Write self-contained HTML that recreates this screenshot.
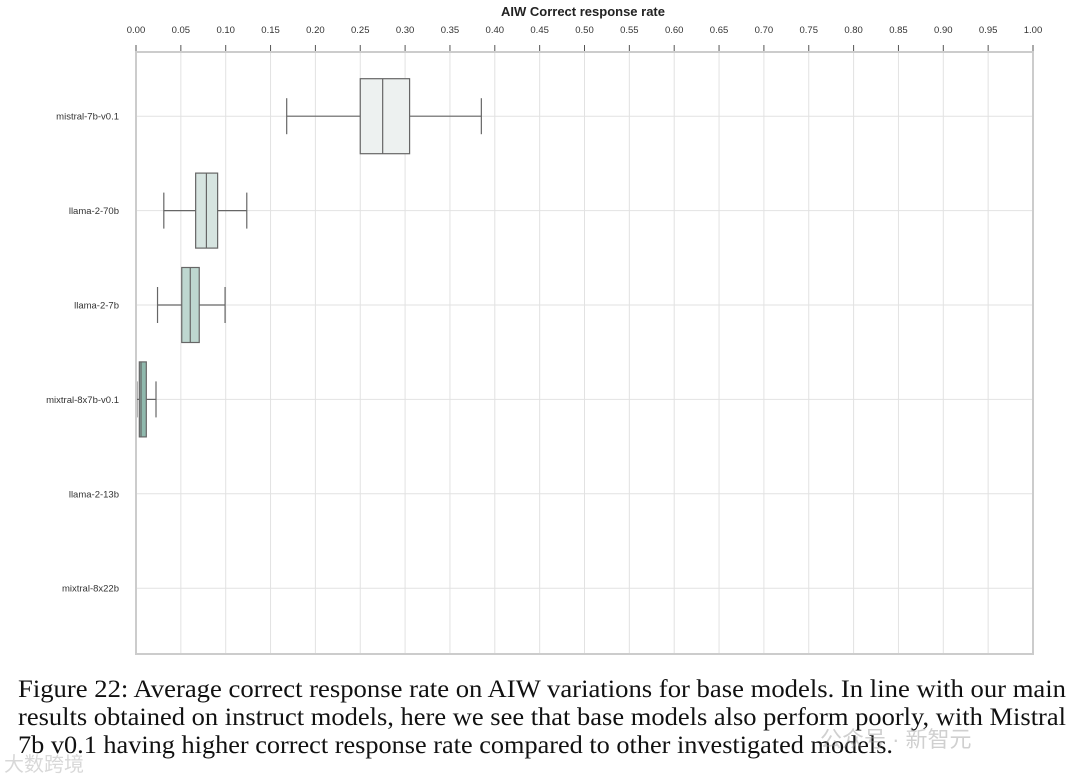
<!DOCTYPE html>
<html><head><meta charset="utf-8"><style>
body{margin:0;background:#fff;width:1080px;height:777px;overflow:hidden;position:relative}
svg{position:absolute;left:0;top:0}
.wm{position:absolute;left:820px;top:722px;font-family:"Liberation Sans","Noto Sans CJK SC",sans-serif;font-size:22px;color:rgba(150,150,150,0.45)}
.wm2{position:absolute;left:4px;top:748px;font-family:"Liberation Sans","Noto Sans CJK SC",sans-serif;font-size:20px;color:rgba(190,190,190,0.6)}
</style></head><body>
<svg id="chart" width="1080" height="670" font-family="Liberation Sans, sans-serif"></svg>
<svg width="1080" height="777" font-family="Liberation Serif, serif" font-size="25" fill="#111">
<text x="18" y="697" textLength="1048" lengthAdjust="spacingAndGlyphs">Figure 22: Average correct response rate on AIW variations for base models. In line with our main</text>
<text x="18" y="725" textLength="1048" lengthAdjust="spacingAndGlyphs">results obtained on instruct models, here we see that base models also perform poorly, with Mistral</text>
<text x="18" y="753" textLength="875" lengthAdjust="spacingAndGlyphs">7b v0.1 having higher correct response rate compared to other investigated models.</text>
</svg>
<div class="wm">公众号 · 新智元</div>
<div class="wm2">大数跨境</div>
<script>
const categories=["mistral-7b-v0.1","llama-2-70b","llama-2-7b","mixtral-8x7b-v0.1","llama-2-13b","mixtral-8x22b"];
const whiskerLow=[0.168,0.031,0.024,0.001,null,null];
const q1=[0.250,0.0665,0.051,0.0037,null,null];
const median=[0.275,0.0785,0.0605,0.0056,null,null];
const q3=[0.305,0.091,0.0705,0.0115,null,null];
const whiskerHigh=[0.385,0.1235,0.0993,0.0223,null,null];
const boxColors=["#edf1f0","#d6e4e0","#bed7d0","#8fb9ad","#6fa596","#4f9480"];
const ticks=[0,0.05,0.1,0.15,0.2,0.25,0.3,0.35,0.4,0.45,0.5,0.55,0.6,0.65,0.7,0.75,0.8,0.85,0.9,0.95,1.0];
const svg=document.getElementById('chart');const NS="http://www.w3.org/2000/svg";
const L=136,R=1033,T=52,B=654,rowTop=69,rowH=94.4;
const x=v=>L+(R-L)*v;const y=i=>rowTop+rowH*(i+0.5);
function el(t,a){const e=document.createElementNS(NS,t);for(const k in a)e.setAttribute(k,a[k]);svg.appendChild(e);return e;}
let t=el('text',{x:583,y:16,'text-anchor':'middle','font-size':13,'font-weight':'bold',fill:'#222'});t.textContent='AIW Correct response rate';

ticks.forEach(v=>{
 let g=el('line',{x1:x(v),x2:x(v),y1:T,y2:B,stroke:'#e2e2e2','stroke-width':1});
 
 let tk=el('line',{x1:x(v),x2:x(v),y1:45,y2:52,stroke:'#555','stroke-width':1});
 
 let l=el('text',{x:x(v),y:33,'text-anchor':'middle','font-size':9.5,fill:'#333'});l.textContent=v.toFixed(2);
 
});
categories.forEach((c,i)=>{
 let g=el('line',{x1:L,x2:R,y1:y(i),y2:y(i),stroke:'#e2e2e2','stroke-width':1});
 
 let l=el('text',{x:119,y:y(i)+3.5,'text-anchor':'end','font-size':9.5,fill:'#333'});l.textContent=c;
 
 if(q1[i]===null)return;
 const h=37.5,cy=y(i),wh=18;
 let w1=el('line',{x1:x(whiskerLow[i]),x2:x(q1[i]),y1:cy,y2:cy,stroke:'#666','stroke-width':1.2});
 
 let w2=el('line',{x1:x(q3[i]),x2:x(whiskerHigh[i]),y1:cy,y2:cy,stroke:'#666','stroke-width':1.2});
 
 let c1=el('line',{x1:x(whiskerLow[i]),x2:x(whiskerLow[i]),y1:cy-wh,y2:cy+wh,stroke:'#666','stroke-width':1.2});
 
 let c2=el('line',{x1:x(whiskerHigh[i]),x2:x(whiskerHigh[i]),y1:cy-wh,y2:cy+wh,stroke:'#666','stroke-width':1.2});
 
 let b=el('rect',{x:x(q1[i]),y:cy-h,width:x(q3[i])-x(q1[i]),height:2*h,fill:boxColors[i],stroke:'#666','stroke-width':1.2});
 
 let m=el('line',{x1:x(median[i]),x2:x(median[i]),y1:cy-h,y2:cy+h,stroke:'#666','stroke-width':1.2});
 
});
let f=el('rect',{x:L,y:T,width:R-L,height:B-T,fill:'none',stroke:'#ccc','stroke-width':2});

</script>
</body></html>
